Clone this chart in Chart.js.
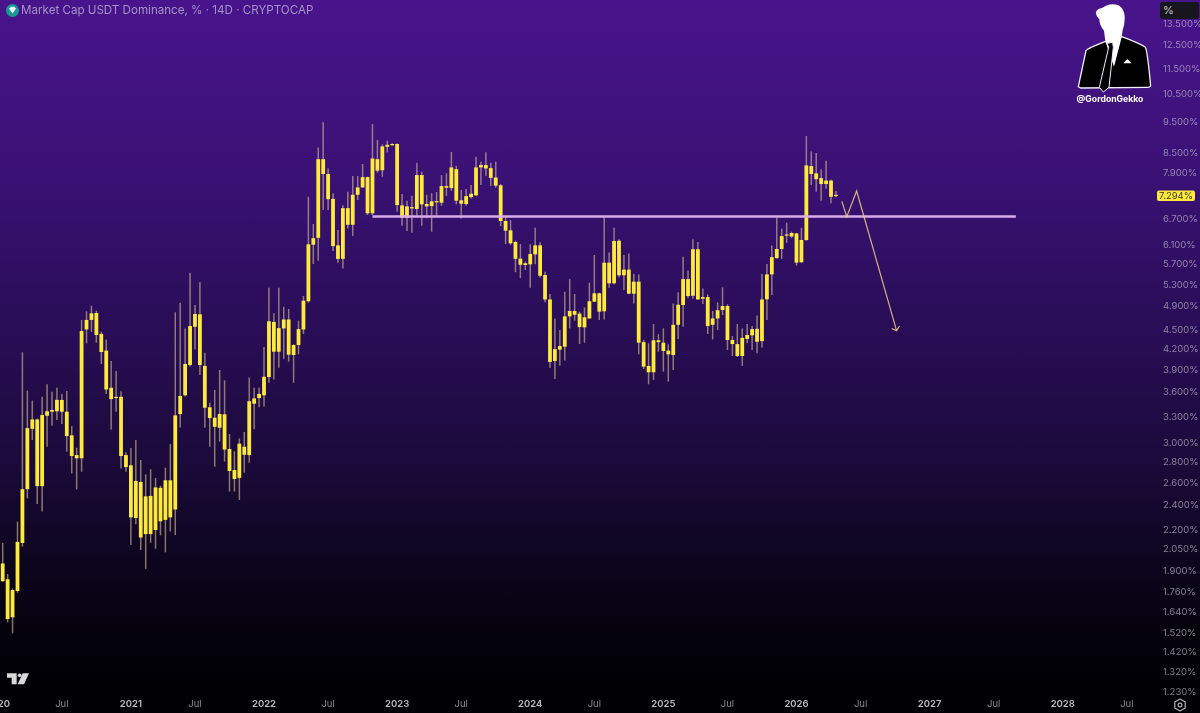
<!DOCTYPE html>
<html>
<head>
<meta charset="utf-8">
<title>USDT Dominance</title>
<script src="https://cdn.jsdelivr.net/npm/chart.js@4"></script>
<style>
    html, body { margin: 0; padding: 0; width: 1200px; height: 713px; overflow: hidden; }
    body { position: relative; background: linear-gradient(180deg, #48148c 0%, #3a1174 25%, #2c0e5c 42%, #1b0a3a 65%, #0a0418 82%, #020108 92%, #000004 100%); }
    canvas { position: absolute; left: 0; top: 0; }
    #title { position: absolute; left: 21px; top: 2px; font: 11.6px/16px "Inter", "Noto Sans", sans-serif; color: #a793c6; white-space: nowrap; }
    #unit { position: absolute; left: 1160px; top: 2px; width: 39px; height: 17px; border-radius: 3px; background: #17151d; color: #c9c9cf; font: 11px/17px "Inter", sans-serif; text-indent: 3px; }
    svg { position: absolute; }
</style>
</head>
<body>
<canvas id="chart" width="1200" height="713"></canvas>

<svg style="left:4px;top:3px" width="18" height="15" viewBox="0 0 18 15">
    <circle cx="8.5" cy="7.5" r="6.5" fill="#1b9a93"/>
    <path d="M5 5.5 L7 3.8 L10 3.8 L12 5.5 L8.5 10.5 Z" fill="#e8f6f4"/>
</svg>
<div id="title">Market Cap USDT Dominance, % · 14D · CRYPTOCAP</div>
<div id="unit">%</div>

<svg style="left:1060px;top:0" width="140" height="210" viewBox="0 0 420 630">
    <path d="M55 260 L78 152 Q85 144 135 125 L185 110 Q240 130 256 142 Q262 150 272 258 Q270 262 262 262 L62 264 Z" fill="#000" stroke="#f2edf7" stroke-width="4" stroke-linejoin="round"/>
    <path d="M108 36 Q112 26 126 24 Q150 6 176 16 Q196 30 194 56 Q194 76 188 90 L185 112 L162 200 L136 124 L132 92 Q118 76 118 58 Q106 46 108 36 Z" fill="#fff"/>
    <path d="M141 130 L158 127 L160 142 L147 262 L130 276 L118 262 L146 142 Z" fill="#000" stroke="#f2edf7" stroke-width="3"/>
    <path d="M190 190 L202 177 L215 190 Z" fill="#fff"/>
    <text x="150" y="305" text-anchor="middle" font-family="Inter, Roboto, sans-serif" font-weight="700" font-size="26" fill="#fff">@GordonGekko</text>
</svg>

<svg style="left:0;top:640px" width="40" height="60" viewBox="0 0 120 180">
    <path d="M21 100 H50 V133 H35 V113 H21 Z" fill="#d8d8d8"/>
    <circle cx="59" cy="106" r="5.5" fill="#d8d8d8"/>
    <path d="M68 100 H87 L72 133 H53 Z" fill="#d8d8d8"/>
</svg>

<svg style="left:1172px;top:697px" width="16" height="16" viewBox="0 0 16 16">
    <path d="M8 2 L13.2 5 V11 L8 14 L2.8 11 V5 Z" fill="none" stroke="#b5b5b5" stroke-width="1.2" stroke-linejoin="round"/>
    <circle cx="8" cy="8" r="1.9" fill="none" stroke="#b5b5b5" stroke-width="1.2"/>
</svg>

<script>
// USDT dominance, 14D candles, in %
const opens = [
    1.95,1.843,1.608,1.767,2.099,2.546,3.161,3.269,2.574,3.313,
    3.361,3.366,3.506,3.361,3.088,2.877,2.844,4.514,4.671,4.789,
    4.442,4.184,3.662,3.530,3.546,2.877,2.773,2.296,2.612,2.167,
    2.485,2.199,2.558,2.280,2.628,2.367,3.333,3.565,3.974,4.558,
    4.766,3.961,3.415,3.289,3.173,3.330,2.941,2.727,2.651,2.964,
    2.877,3.459,3.530,3.565,3.806,4.637,4.168,4.531,4.679,4.119,
    4.269,4.514,4.995,6.117,6.270,8.314,7.883,7.211,6.104,5.815,
    6.975,6.572,7.318,7.513,7.796,6.847,8.314,7.990,8.692,8.74,
    8.78,7.045,6.737,7.001,6.954,7.854,7.079,7.027,7.123,7.112,
    7.549,7.494,8.022,7.174,7.079,7.256,7.302,8.072,8.141,8.052,
    7.785,7.57,6.661,6.441,6.177,5.82,5.688,5.702,5.91,6.104,
    5.487,5.027,4.032,4.199,4.243,4.731,4.824,4.778,4.548,4.696,
    4.987,5.139,4.818,5.736,5.327,6.206,5.482,5.595,5.132,5.358,
    4.314,3.961,3.872,4.342,4.305,4.184,4.119,4.59,4.928,5.408,
    5.094,6.02,5.04,5.07,4.59,4.696,4.841,4.91,4.347,4.284,
    4.104,4.363,4.42,4.525,4.33,5.03,5.50,5.83,6.025,6.32,
    6.38,6.37,5.745,6.22,8.11,7.903,7.768,7.605,7.70,7.283
];
const closes = [
    1.83,1.598,1.773,2.107,2.546,3.169,3.269,2.574,3.321,3.366,
    3.382,3.507,3.361,3.080,2.867,2.844,4.490,4.671,4.783,4.425,
    4.164,3.640,3.516,3.542,2.867,2.756,2.301,2.622,2.141,2.481,
    2.167,2.562,2.269,2.628,2.301,3.317,3.556,3.989,4.570,4.771,
    3.974,3.409,3.285,3.184,3.333,2.935,2.717,2.640,2.997,2.880,
    3.490,3.525,3.582,3.810,4.649,4.168,4.536,4.679,4.123,4.269,
    4.520,5.005,6.126,6.263,8.314,7.883,7.203,6.088,5.814,6.975,
    6.572,7.318,7.513,7.796,6.847,8.335,7.980,8.704,8.755,8.78,
    7.053,6.737,7.019,6.968,7.854,7.071,7.019,7.148,7.148,7.549,
    7.505,8.072,7.164,7.086,7.283,7.345,8.072,8.141,8.042,7.776,
    7.56,6.661,6.433,6.148,5.815,5.693,5.723,5.917,6.104,5.473,
    5.027,4.018,4.206,4.253,4.731,4.824,4.759,4.553,4.716,4.995,
    5.139,4.812,5.736,5.327,6.2,5.482,5.595,5.132,5.358,4.305,
    3.951,3.872,4.342,4.314,4.179,4.129,4.59,4.932,5.408,5.089,
    6.02,5.027,5.07,4.57,4.696,4.836,4.91,4.347,4.284,4.104,
    4.38,4.425,4.52,4.32,5.027,5.50,5.85,6.025,6.31,6.333,
    6.30,5.736,6.222,8.132,7.883,7.739,7.605,7.70,7.265,7.294
];
const highs = [
    2.10,1.878,1.783,2.266,4.159,3.625,3.497,3.281,3.546,3.708,
    3.612,3.662,3.582,3.621,3.192,2.953,4.671,4.818,4.915,4.829,
    4.479,4.355,4.032,3.890,3.617,2.906,2.950,3.037,2.827,2.685,
    2.735,2.651,2.577,2.749,2.993,4.801,4.969,4.531,5.534,4.928,
    5.346,4.154,3.472,3.634,3.904,3.762,3.103,2.916,3.054,3.125,
    3.801,3.662,3.662,4.238,5.242,4.783,5.242,4.897,4.858,4.28,
    4.659,5.089,7.265,6.589,8.672,9.489,8.042,7.356,6.449,7.045,
    7.399,7.825,7.825,8.171,7.81,9.430,8.906,8.768,8.884,8.80,
    8.80,7.337,7.164,7.291,8.209,7.949,7.318,7.356,7.391,7.854,
    7.903,8.530,8.120,7.444,7.47,7.577,8.385,8.240,8.521,8.209,
    8.24,7.605,6.745,6.685,6.206,6.132,5.757,6.126,6.50,6.17,
    5.554,5.126,4.696,4.506,5.167,5.408,5.126,4.812,4.885,5.34,
    5.895,5.15,6.745,5.95,6.50,6.238,5.895,5.93,5.508,5.50,
    4.347,4.295,4.604,4.437,4.531,4.28,4.955,5.158,5.86,5.575,
    6.238,6.177,5.23,5.12,4.824,4.976,5.25,4.94,4.409,4.604,
    4.531,4.604,4.57,4.745,5.508,5.709,6.1,6.737,6.48,6.62,
    6.41,6.38,6.50,9.032,8.55,8.50,8.02,8.27,7.73,7.42
];
const lows = [
    1.827,1.579,1.518,1.756,2.071,2.463,3.037,2.414,2.349,2.964,
    3.196,3.263,3.216,2.912,2.694,2.543,2.710,4.295,4.474,4.305,
    3.989,3.582,3.154,3.361,2.742,2.710,2.084,2.245,2.047,1.913,
    2.101,2.056,2.157,2.030,2.188,2.159,3.177,3.55,3.951,4.201,
    3.834,3.173,2.964,2.759,3.019,2.810,2.524,2.524,2.449,2.700,
    2.800,3.157,3.415,3.423,3.729,3.773,3.935,4.063,4.022,3.729,
    4.129,4.442,4.969,5.709,5.778,6.929,6.929,5.981,5.736,5.619,
    6.485,6.310,7.182,7.505,6.804,6.804,7.920,7.805,8.521,8.73,
    6.887,6.548,6.426,6.387,6.762,6.548,6.722,6.410,6.762,7.035,
    7.283,7.417,7.071,6.722,7.035,7.22,7.291,7.577,7.835,7.549,
    7.505,6.541,6.132,6.117,5.542,5.427,5.588,5.242,5.702,5.44,
    4.976,3.935,3.779,3.964,4.037,4.531,4.659,4.284,4.305,4.69,
    4.98,4.671,4.679,5.242,5.31,5.44,5.201,5.12,4.955,4.129,
    3.918,3.708,3.766,4.168,3.88,3.743,3.904,4.363,4.558,5.05,
    5.04,5.02,4.946,4.442,4.355,4.506,4.754,4.194,4.104,4.09,
    3.961,4.295,4.194,4.144,4.23,4.671,5.108,5.82,5.814,6.16,
    6.27,5.675,5.73,6.21,7.577,7.399,7.164,7.48,7.10,7.25
];

const yTicks = [13.5,12.5,11.5,10.5,9.5,8.5,7.9,6.7,6.1,5.7,5.3,4.9,4.5,4.2,3.9,3.6,3.3,3.0,2.8,2.6,2.4,2.2,2.05,1.9,1.76,1.64,1.52,1.42,1.32,1.23];
const xTickBars = [-1,12,26,39,53,66,80,93,107,120,134,147,161,174,188,201,215,228];
const xTickLabels = ['2020','Jul','2021','Jul','2022','Jul','2023','Jul','2024','Jul','2025','Jul','2026','Jul','2027','Jul','2028','Jul'];

// drawn on the chart: the support level and the projected path
const levelBars = [75, 205.5];
const levelValues = [6.769, 6.769];
const pathBars = [170.2, 171.2, 173.2, 181.3];
const pathValues = [7.148, 6.762, 7.417, 4.495];
const headBars = [180.3, 181.3, 181.9];
const headValues = [4.531, 4.495, 4.57];

const lastPrice = 7.294;

function toPoints(xs, ys) {
    return xs.map((x, i) => ({ x: x, y: ys[i] }));
}

// ticks can be resolved without a tick while the scale is being measured
function isYearTick(ctx) {
    return !ctx.tick || xTickLabels[xTickBars.indexOf(ctx.tick.value)] !== 'Jul';
}

const wicks = highs.map((h, i) => ({ x: i, y: [lows[i], h] }));
const bodies = opens.map((o, i) => ({ x: i, y: [o, closes[i]] }));

const priceTag = {
    id: 'priceTag',
    afterDraw(chart) {
        const ctx = chart.ctx;
        const y = chart.scales.y.getPixelForValue(lastPrice);
        ctx.save();
        ctx.fillStyle = '#fdea3c';
        ctx.beginPath();
        ctx.roundRect(1157, y - 5.2, 38, 10.5, 2);
        ctx.fill();
        ctx.fillStyle = '#3a3a20';
        ctx.font = '9.5px Inter, sans-serif';
        ctx.textAlign = 'center';
        ctx.textBaseline = 'middle';
        ctx.fillText(lastPrice.toFixed(3) + '%', 1176, y + 0.5);
        ctx.restore();
    }
};

new Chart(document.getElementById('chart').getContext('2d'), {
    data: {
        datasets: [
            { type: 'line', data: toPoints(levelBars, levelValues), borderColor: '#d8aee8', borderWidth: 2.6, pointRadius: 0, order: 1 },
            { type: 'line', data: toPoints(pathBars, pathValues), borderColor: 'rgba(235,208,130,0.85)', borderWidth: 1.2, pointRadius: 0, order: 0 },
            { type: 'line', data: toPoints(headBars, headValues), borderColor: 'rgba(235,208,130,0.85)', borderWidth: 1.2, pointRadius: 0, order: 0 },
            { type: 'bar', data: bodies, backgroundColor: '#fdea3c', barThickness: 3.8, minBarLength: 1.2, borderWidth: 0, inflateAmount: 0, order: 2 },
            { type: 'bar', data: wicks, backgroundColor: 'rgba(215,195,150,0.6)', barThickness: 1.5, borderWidth: 0, inflateAmount: 0, order: 3 }
        ]
    },
    options: {
        responsive: false,
        animation: false,
        events: [],
        layout: { padding: 0 },
        plugins: { legend: { display: false }, tooltip: { enabled: false } },
        datasets: { bar: { grouped: false } },
        scales: {
            x: {
                type: 'linear',
                offset: false,
                min: -0.548,
                max: 232.7,
                grid: { display: false, drawTicks: false },
                border: { display: false },
                afterBuildTicks: scale => { scale.ticks = xTickBars.map(v => ({ value: v })); },
                afterFit: scale => { scale.height = 18; scale.paddingLeft = 0; scale.paddingRight = 0; },
                ticks: {
                    autoSkip: false,
                    maxRotation: 0,
                    padding: 3,
                    font: ctx => ({ family: 'Inter, sans-serif', size: 9.5, weight: isYearTick(ctx) ? '600' : 'normal' }),
                    color: ctx => isYearTick(ctx) ? '#bdbdc0' : '#8a8a8e',
                    callback: value => xTickLabels[xTickBars.indexOf(value)]
                }
            },
            y: {
                type: 'logarithmic',
                position: 'right',
                min: 1.2168,
                max: 14.715,
                grid: { display: false, drawTicks: false },
                border: { display: false },
                afterBuildTicks: scale => { scale.ticks = yTicks.map(v => ({ value: v })); },
                afterFit: scale => { scale.width = 50; scale.paddingTop = 0; scale.paddingBottom = 0; },
                ticks: {
                    autoSkip: false,
                    padding: 13,
                    font: { family: 'Inter, sans-serif', size: 9.5 },
                    color: 'rgba(205,200,215,0.62)',
                    callback: value => value.toFixed(3) + '%'
                }
            }
        }
    },
    plugins: [priceTag]
});
</script>
</body>
</html>
